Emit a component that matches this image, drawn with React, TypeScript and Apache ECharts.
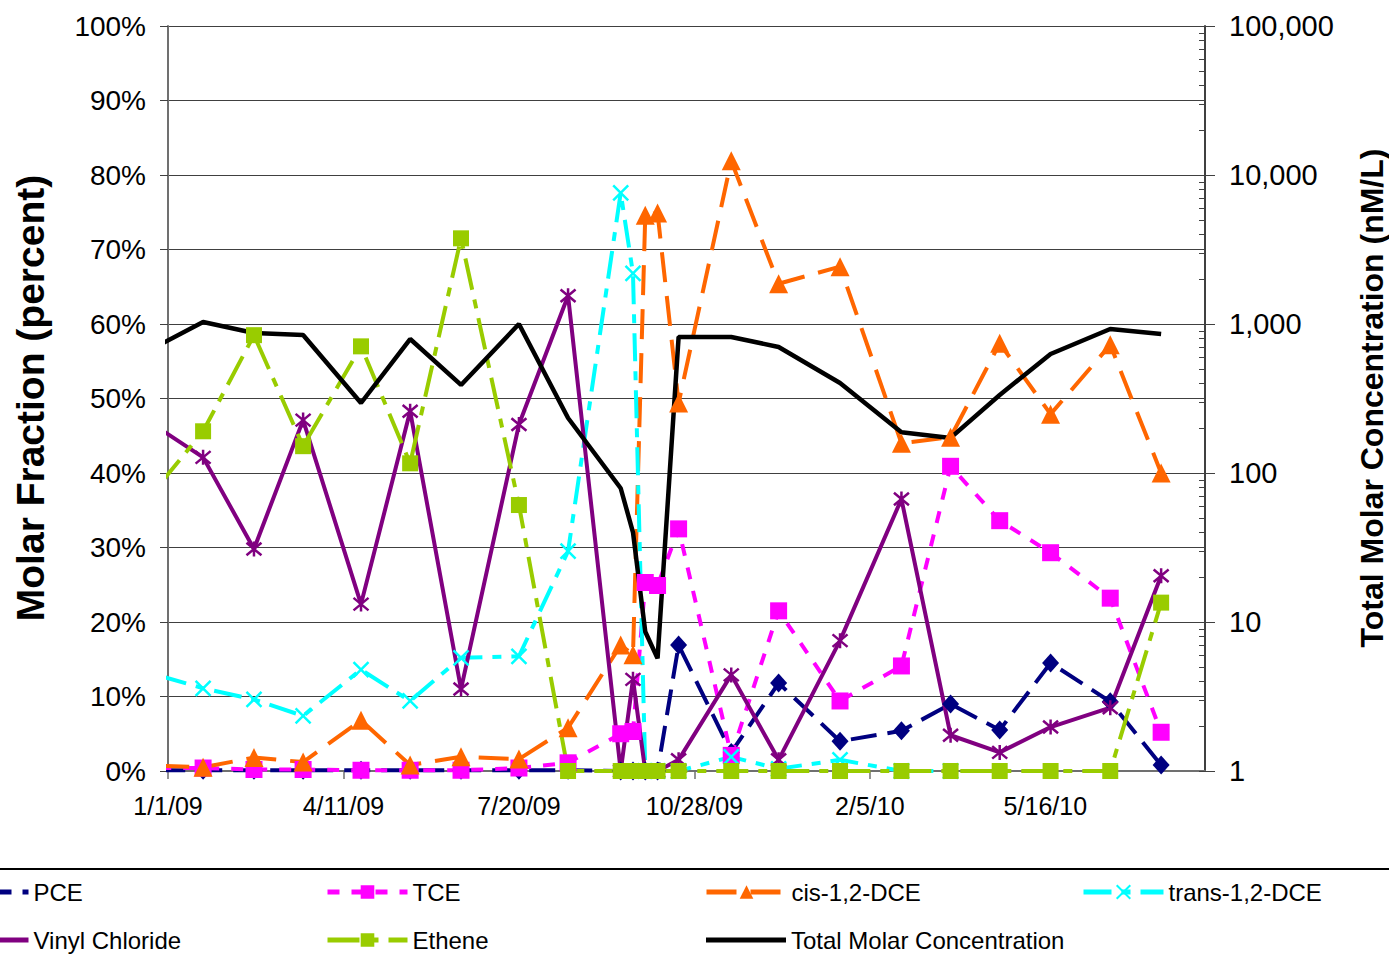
import React, { useEffect, useRef } from 'react';
import * as echarts from 'echarts';

// Sampling dates
const sampleDates = [
  '2008-12-27', '2009-01-21', '2009-02-19', '2009-03-19', '2009-04-21', '2009-05-19',
  '2009-06-17', '2009-07-20', '2009-08-17', '2009-09-16', '2009-09-23', '2009-09-30',
  '2009-10-07', '2009-10-19', '2009-11-18', '2009-12-15', '2010-01-19', '2010-02-23',
  '2010-03-23', '2010-04-20', '2010-05-19', '2010-06-22', '2010-07-21',
];

// Molar fractions (percent)
const pce = [0.1, 0.1, 0.1, 0.1, 0.1, 0.1, 0.1, 0.1, 0.1, 0, 0, 0, 0, 16.9, 2.5, 11.8, 4.0, 5.4, 9.0, 5.5, 14.5, 9.3, 0.8];
const tce = [0.4, 0.4, 0.2, 0.2, 0.1, 0.1, 0.1, 0.4, 1.1, 5.0, 5.3, 25.3, 24.9, 32.5, 2.1, 21.5, 9.4, 14.1, 40.9, 33.6, 29.3, 23.2, 5.2];
const cisDce = [0.7, 0.5, 1.8, 1.2, 6.8, 0.8, 1.9, 1.6, 5.8, 16.9, 15.6, 74.6, 74.9, 49.4, 81.9, 65.4, 67.7, 44.0, 44.8, 57.4, 47.9, 57.2, 40.0];
const transDce = [12.8, 11.1, 9.6, 7.4, 13.6, 9.4, 15.2, 15.4, 29.5, 77.6, 66.8, 0, 0, 0, 1.9, 0.3, 1.5, 0, 0, null, null, null, null];
const vinylChloride = [46.0, 42.1, 29.8, 47.1, 22.4, 48.3, 11.0, 46.5, 63.8, 0, 12.3, 0, 0, 1.5, 12.9, 1.5, 17.5, 36.5, 4.8, 2.5, 5.9, 8.5, 26.2];
const ethene = [38.4, 45.6, 58.5, 43.6, 57.0, 41.3, 71.5, 35.7, 0, 0, 0, 0, 0, 0, 0, 0, 0, 0, 0, 0, 0, 0, 22.6];
// Total molar concentration (nM/L)
const totalMolar = [723, 1031, 870, 844, 295, 793, 390, 1000, 234, 79, 40, 8.6, 5.7, 818, 818, 701, 402, 188, 172, 334, 629, 926, 857];

// Axis ticks
const xTickDays = [0, 100, 200, 300, 400, 500];
const xMaxDays = 591;
const rightMajor = [1, 10, 100, 1000, 10000, 100000];
const rightMinor = [2, 3, 4, 5, 6, 7, 8, 9, 20, 30, 40, 50, 60, 70, 80, 90, 200, 300, 400, 500, 600, 700, 800, 900,
  2000, 3000, 4000, 5000, 6000, 7000, 8000, 9000, 20000, 30000, 40000, 50000, 60000, 70000, 80000, 90000];

const ORIGIN = Date.UTC(2009, 0, 1);
const DAY = 86400000;
const toDay = (s: string) => {
  const [y, m, d] = s.split('-').map(Number);
  return Math.round((Date.UTC(y, m - 1, d) - ORIGIN) / DAY);
};
const fmtDay = (d: number) => {
  const t = new Date(ORIGIN + d * DAY);
  return `${t.getUTCMonth() + 1}/${t.getUTCDate()}/${String(t.getUTCFullYear()).slice(2)}`;
};
const days = sampleDates.map(toDay);

const FONT = '"Liberation Sans", Arial, Helvetica, sans-serif';

const X_SYM = 'path://M0,0L10,10M10,0L0,10';
const STAR_SYM = 'path://M0,0L10,10M10,0L0,10M5,-1L5,11';

function pts(vals: (number | null)[]) {
  return vals
    .map((v, i) => (v === null ? null : { value: [days[i], v], symbol: days[i] < 0 ? 'none' : undefined }))
    .filter((p) => p !== null);
}

export default function App() {
  const ref = useRef<HTMLDivElement>(null);
  useEffect(() => {
    if (!ref.current) return;
    const chart = echarts.init(ref.current, undefined, { renderer: 'svg' });

    const mk = (name: string, vals: (number | null)[], color: string, symbol: string, size: number | number[], dash: any, width = 4, stroke = false) => ({
      name,
      type: 'line',
      data: pts(vals),
      clip: false,
      symbol,
      symbolSize: size,
      showAllSymbol: true,
      lineStyle: { color, width, type: dash, cap: 'butt' },
      itemStyle: stroke ? { color, borderColor: color, borderWidth: 2.5 } : { color, borderColor: color, borderWidth: 0 },
      emphasis: { disabled: true },
    });

    const series: any[] = [
      mk('PCE', pce, '#000080', 'diamond', [17, 19], [26, 11]),
      mk('TCE', tce, '#FF00FF', 'rect', 17, [12, 12]),
      mk('cis-1,2-DCE', cisDce, '#FF6600', 'triangle', [19, 19], [30, 14]),
      mk('trans-1,2-DCE', transDce, '#00FFFF', X_SYM, 15, [28, 10, 9, 10], 4, true),
      mk('Vinyl Chloride', vinylChloride, '#800080', STAR_SYM, 15, 'solid', 4, true),
      mk('Ethene', ethene, '#99CC00', 'rect', 16, [32, 10, 9, 10]),
      {
        name: 'Total Molar Concentration',
        type: 'line',
        yAxisIndex: 1,
        data: days.map((d, i) => [d, totalMolar[i]]),
        clip: true,
        symbol: 'none',
        lineStyle: { color: '#000000', width: 4.5 },
        itemStyle: { color: '#000000' },
        emphasis: { disabled: true },
      },
    ];

    const legendPos: [string, number, number][] = [
      ['PCE', -54, 893],
      ['TCE', 325, 893],
      ['cis-1,2-DCE', 704, 893],
      ['trans-1,2-DCE', 1081, 893],
      ['Vinyl Chloride', -54, 941],
      ['Ethene', 325, 941],
    ];

    const legends: any[] = legendPos.map(([name, left, cy]) => ({
      data: [name],
      left,
      top: cy - 13,
      padding: 0,
      itemWidth: 80,
      itemHeight: 17,
      selectedMode: false,
      lineStyle: { width: 5 },
      textStyle: { fontSize: 24, fontFamily: FONT, color: '#000' },
    }));
    legends.push({
      data: [{ name: 'Total Molar Concentration', icon: 'rect' }],
      left: 706,
      top: 941 - 13,
      padding: 0,
      itemWidth: 80,
      itemHeight: 5,
      selectedMode: false,
      itemStyle: { color: '#000' },
      textStyle: { fontSize: 24, fontFamily: FONT, color: '#000' },
    });

    chart.setOption({
      animation: false,
      backgroundColor: '#ffffff',
      textStyle: { fontFamily: FONT },
      grid: { left: 168, top: 26, right: 184, bottom: 189, containLabel: false },
      legend: legends,
      xAxis: {
        type: 'value',
        min: 0,
        max: xMaxDays,
        interval: 100,
        axisLine: { show: true, onZero: false, lineStyle: { color: '#707070', width: 2 } },
        axisTick: { show: true, length: 8, customValues: xTickDays, lineStyle: { color: '#707070', width: 1.5 } },
        axisLabel: {
          customValues: xTickDays,
          formatter: (v: number) => fmtDay(v),
          fontSize: 25,
          color: '#000',
          margin: 22,
          fontFamily: FONT,
        },
        splitLine: { show: false },
      },
      yAxis: [
        {
          type: 'value',
          min: 0,
          max: 100,
          interval: 10,
          axisLine: { show: true, lineStyle: { color: '#707070', width: 2 } },
          axisTick: { show: true, length: 8, lineStyle: { color: '#404040', width: 1 } },
          axisLabel: { formatter: '{value}%', fontSize: 28, color: '#000', margin: 22, fontFamily: FONT },
          splitLine: { show: true, lineStyle: { color: '#404040', width: 1 } },
        },
        {
          type: 'log',
          logBase: 10,
          min: 1,
          max: 100000,
          position: 'right',
          axisLine: { show: true, lineStyle: { color: '#404040', width: 2 } },
          axisTick: { show: true, length: 10, lineStyle: { color: '#404040', width: 1 } },
          axisLabel: {
            formatter: (v: number) => Math.round(v).toLocaleString('en-US'),
            fontSize: 29,
            color: '#000',
            margin: 24,
            fontFamily: FONT,
          },
          splitLine: { show: false },
        },
        {
          type: 'log',
          logBase: 10,
          min: 1,
          max: 100000,
          position: 'right',
          axisLine: { show: false },
          axisTick: { show: true, inside: true, length: 6, customValues: rightMinor.concat(rightMajor), lineStyle: { color: '#404040', width: 1 } },
          axisLabel: { show: false },
          splitLine: { show: false },
        },
      ],
      series,
      graphic: [
        {
          type: 'text',
          x: 30,
          y: 398,
          rotation: Math.PI / 2,
          style: {
            text: 'Molar Fraction (percent)',
            fontSize: 39,
            fontWeight: 'bold',
            fontFamily: FONT,
            fill: '#000',
            align: 'center',
            verticalAlign: 'middle',
          },
        },
        {
          type: 'text',
          x: 1372,
          y: 398,
          rotation: Math.PI / 2,
          style: {
            text: 'Total Molar Concentration (nM/L)',
            fontSize: 32,
            fontWeight: 'bold',
            fontFamily: FONT,
            fill: '#000',
            align: 'center',
            verticalAlign: 'middle',
          },
        },
        {
          type: 'line',
          shape: { x1: 0, y1: 869, x2: 1389, y2: 869 },
          style: { stroke: '#000', lineWidth: 2 },
        },
      ],
    });
    return () => chart.dispose();
  }, []);
  return <div ref={ref} style={{ position: 'absolute', left: 0, top: 0, width: 1389, height: 960 }} />;
}
